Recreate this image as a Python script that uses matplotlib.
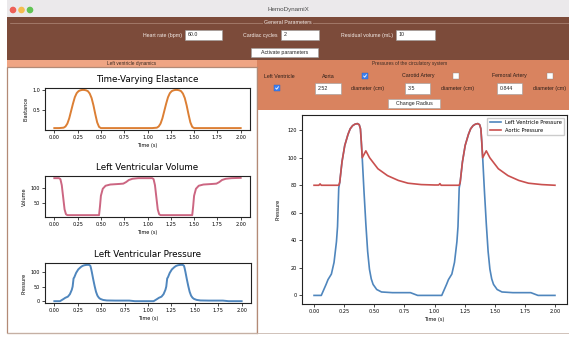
import matplotlib
matplotlib.use("Agg")
import matplotlib.pyplot as plt
from matplotlib.patches import Rectangle, Circle

# ---- data ----
# time-varying elastance (normalised)
t_elast = [0.00, 0.05, 0.10, 0.12, 0.14, 0.16, 0.18, 0.20, 0.22, 0.24, 0.26, 0.28, 0.30,
           0.32, 0.34, 0.36, 0.38, 0.40, 0.42, 0.44, 0.46, 0.48, 0.50, 0.70, 0.90,
           1.00, 1.05, 1.10, 1.12, 1.14, 1.16, 1.18, 1.20, 1.22, 1.24, 1.26, 1.28, 1.30,
           1.32, 1.34, 1.36, 1.38, 1.40, 1.42, 1.44, 1.46, 1.48, 1.50, 1.70, 1.90, 2.00]
elast = [0.06, 0.06, 0.07, 0.10, 0.17, 0.30, 0.48, 0.66, 0.82, 0.92, 0.97, 0.99, 1.00,
         1.00, 0.99, 0.97, 0.91, 0.80, 0.62, 0.40, 0.20, 0.09, 0.06, 0.06, 0.06,
         0.06, 0.06, 0.07, 0.10, 0.17, 0.30, 0.48, 0.66, 0.82, 0.92, 0.97, 0.99, 1.00,
         1.00, 0.99, 0.97, 0.91, 0.80, 0.62, 0.40, 0.20, 0.09, 0.06, 0.06, 0.06, 0.06]

# left ventricular volume (mL)
t_vol = [0.00, 0.05, 0.065, 0.08, 0.095, 0.11, 0.125, 0.14, 0.30, 0.48, 0.49, 0.50, 0.52,
         0.55, 0.60, 0.70, 0.74, 0.77, 0.80, 0.84, 0.90, 1.00,
         1.05, 1.065, 1.08, 1.095, 1.11, 1.125, 1.14, 1.30, 1.48, 1.49, 1.50, 1.52,
         1.55, 1.60, 1.70, 1.74, 1.77, 1.80, 1.84, 1.90, 2.00]
vol = [133, 133, 130, 110, 70, 30, 14, 11, 11, 11, 40, 75, 98,
       108, 112, 114, 115, 120, 127, 131, 133, 133,
       133, 130, 110, 70, 30, 14, 11, 11, 11, 40, 75, 98,
       108, 112, 114, 115, 120, 127, 131, 133, 134]

# left ventricular pressure (mmHg)
t_lvp = [0.00, 0.06, 0.075, 0.10, 0.116, 0.144, 0.166, 0.186, 0.195, 0.205, 0.213, 0.232,
         0.255, 0.282, 0.30, 0.32, 0.34, 0.36, 0.375, 0.385, 0.392, 0.40, 0.415, 0.43,
         0.445, 0.46, 0.475, 0.49, 0.52, 0.56, 0.65, 0.80, 0.86, 1.06,
         1.075, 1.10, 1.116, 1.144, 1.166, 1.186, 1.195, 1.205, 1.213, 1.232,
         1.255, 1.282, 1.30, 1.32, 1.34, 1.36, 1.375, 1.385, 1.392, 1.40, 1.415, 1.43,
         1.445, 1.46, 1.475, 1.49, 1.52, 1.56, 1.65, 1.80, 1.86, 2.00]
lv_pressure = [0, 0, 3, 8, 11.5, 15.5, 24, 39, 50, 78, 82, 97,
               109, 117, 121, 123.3, 124.4, 124.8, 124, 121, 112, 100, 75, 52,
               32, 19, 12, 8, 4.3, 2.5, 2, 2, 0, 0,
               3, 8, 11.5, 15.5, 24, 39, 50, 78, 82, 97,
               109, 117, 121, 123.3, 124.4, 124.8, 124, 121, 112, 100, 75, 52,
               32, 19, 12, 8, 4.3, 2.5, 2, 2, 0, 0]

# aortic pressure (mmHg)
t_aorta = [0.00, 0.04, 0.05, 0.06, 0.205, 0.213, 0.232, 0.255, 0.282, 0.30, 0.32, 0.34,
           0.36, 0.375, 0.385, 0.392, 0.40, 0.415, 0.43, 0.46, 0.53, 0.61, 0.70, 0.78,
           0.89, 1.00, 1.035, 1.045, 1.055, 1.205, 1.213, 1.232, 1.255, 1.282, 1.30,
           1.32, 1.34, 1.36, 1.375, 1.385, 1.392, 1.40, 1.415, 1.43, 1.46, 1.53, 1.61,
           1.70, 1.78, 1.89, 2.00]
aortic_pressure = [80, 80, 81, 80, 80, 82, 97, 109, 117, 121, 123.3, 124.4,
                   124.8, 124, 121, 112, 100, 102.5, 105, 100, 92, 87, 83.5, 81.5,
                   80.5, 80.2, 80.2, 81.2, 80, 80, 82, 97, 109, 117, 121,
                   123.3, 124.4, 124.8, 124, 121, 112, 100, 102.5, 105, 100, 92, 87,
                   83.5, 81.5, 80.5, 80.0]

time_ticks = [0.00, 0.25, 0.50, 0.75, 1.00, 1.25, 1.50, 1.75, 2.00]
time_labels = ["0.00", "0.25", "0.50", "0.75", "1.00", "1.25", "1.50", "1.75", "2.00"]

# ---- figure ----
W, H = 569, 337
fig = plt.figure(figsize=(W / 100, H / 100), dpi=100)
fig.patch.set_facecolor("white")

gui_font = "Liberation Sans"
BROWN = "#7c4b3a"
ORANGE = "#d9835f"
TAB = "#efa584"
BORDER = "#b38a76"

# background "window" drawn in pixel coordinates (y grows downward)
bg = fig.add_axes([0, 0, 1, 1])
bg.set_xlim(0, W)
bg.set_ylim(H, 0)
bg.axis("off")


def rect(x, y, w, h, fc, ec="none", lw=0.6):
    bg.add_patch(Rectangle((x, y), w, h, facecolor=fc, edgecolor=ec, linewidth=lw))


def label(x, y, s, ha="center", color="#f4ece8", size=3.8):
    bg.text(x, y, s, ha=ha, va="center", fontsize=size, color=color, family=gui_font)


def entry(x, y, w, h, s):
    rect(x, y, w, h, "white", "#9a9a9a", 0.4)
    bg.text(x + 2.5, y + h / 2, s, ha="left", va="center", fontsize=3.8,
            color="#222222", family=gui_font)


def button(x, y, w, h, s):
    rect(x, y, w, h, "white", "#a0a0a0", 0.4)
    bg.text(x + w / 2, y + h / 2, s, ha="center", va="center", fontsize=3.8,
            color="#222222", family=gui_font)


def checkbox(x, y, checked):
    if checked:
        rect(x - 2.6, y - 2.6, 5.2, 5.2, "#3d7ff0", "#2a62c4", 0.3)
        bg.plot([x - 1.4, x - 0.3, x + 1.5], [y, y + 1.2, y - 1.3],
                color="white", lw=0.6, solid_capstyle="round")
    else:
        rect(x - 2.6, y - 2.6, 5.2, 5.2, "white", "#8a8a8a", 0.3)


# title bar
rect(7, 0, W - 7, 17, "#ebe9eb")
for cx, col in zip([13, 21.5, 30], ["#ee5f57", "#f5bd4f", "#61c454"]):
    bg.add_patch(Circle((cx, 10), 2.6, color=col))
bg.text(288, 10, "HemoDynamiX", ha="center", va="center", fontsize=4.5,
        color="#4a4a4a", family=gui_font)

# general parameters band
rect(7, 17, W - 7, 43, BROWN)
bg.plot([10, W], [23, 23], color="#b08a7a", lw=0.5)
bg.text(288, 23, "General Parameters", ha="center", va="center", fontsize=3.8,
        color="#f4ece8", family=gui_font,
        bbox=dict(facecolor=BROWN, edgecolor="none", pad=0.8))
label(182, 35, "Heart rate (bpm)", ha="right")
entry(185, 30, 37, 10, "60.0")
label(278, 35, "Cardiac cycles", ha="right")
entry(281, 30, 38, 10, "2")
label(393, 35, "Residual volume (mL)", ha="right")
entry(396, 30, 39, 10, "10")
button(251, 48, 67, 9, "Activate parameters")

# left tab + panel
rect(7, 60, 250, 7, TAB)
label(132, 63.5, "Left ventricle dynamics", color="#3a2a22", size=3.4)
rect(7, 67, 250, 266, "white", BORDER, 0.9)

# right panel
rect(257, 60, W - 257, 50, ORANGE)
label(410, 63.5, "Pressures of the circulatory system", color="#3a2a22", size=3.4)
label(279, 76, "Left Ventricle", color="#2a1d18")
label(328, 76, "Aorta", color="#2a1d18")
checkbox(365, 76, True)
label(418, 76, "Carotid Artery", color="#2a1d18")
checkbox(456, 76, False)
label(509, 76, "Femoral Artery", color="#2a1d18")
checkbox(550, 76, False)
checkbox(277, 88, True)
entry(315, 83, 26, 11, "2.52")
label(368, 88.5, "diameter (cm)", color="#2a1d18")
entry(405, 83, 25, 11, "3.5")
label(458, 88.5, "diameter (cm)", color="#2a1d18")
entry(497, 83, 25, 11, "0.844")
label(533, 88.5, "diameter (cm)", ha="left", color="#2a1d18")
button(388, 99, 52, 9, "Change Radius")
rect(257, 110, W - 257, 223, "white")
bg.plot([257, 257], [67, 333], color=BORDER, lw=0.9)
bg.plot([7, W], [333, 333], color="#c9b8ae", lw=0.6)


def px_axes(x0, y0, x1, y1):
    return fig.add_axes([x0 / W, 1 - y1 / H, (x1 - x0) / W, (y1 - y0) / H])


def style(ax, size):
    ax.set_facecolor("white")
    ax.tick_params(labelsize=size, length=2, width=0.5, pad=1.5)
    for sp in ax.spines.values():
        sp.set_linewidth(0.8)
        sp.set_color("#222222")
    ax.set_xticks(time_ticks)
    ax.set_xticklabels(time_labels)


# left ventricle dynamics panels
ax1 = px_axes(45, 88, 250, 130)
ax1.plot(t_elast, elast, color="#dc7f34", lw=1.4)
ax1.set_yticks([0.5, 1.0])
ax1.set_title("Time-Varying Elastance", fontsize=6.3, pad=4)
ax1.set_ylabel("Elastance", fontsize=3.6, labelpad=3)
ax1.set_xlabel("Time (s)", fontsize=3.6, labelpad=2)
style(ax1, 3.5)

ax2 = px_axes(45, 176, 250, 217)
ax2.plot(t_vol, vol, color="#cc6682", lw=1.4)
ax2.set_yticks([50, 100])
ax2.set_title("Left Ventricular Volume", fontsize=6.3, pad=4)
ax2.set_ylabel("Volume", fontsize=3.6, labelpad=3)
ax2.set_xlabel("Time (s)", fontsize=3.6, labelpad=2)
style(ax2, 3.5)

ax3 = px_axes(45, 263, 251, 303)
ax3.plot(t_lvp, lv_pressure, color="#4f86bd", lw=1.4)
ax3.set_yticks([0, 50, 100])
ax3.set_title("Left Ventricular Pressure", fontsize=6.3, pad=4)
ax3.set_ylabel("Pressure", fontsize=3.6, labelpad=3)
ax3.set_xlabel("Time (s)", fontsize=3.6, labelpad=2)
style(ax3, 3.5)

# circulatory system pressures
ax4 = px_axes(302, 115, 567, 304)
ax4.plot(t_lvp, lv_pressure, color="#4f86bd", lw=1.2, label="Left Ventricle Pressure")
ax4.plot(t_aorta, aortic_pressure, color="#c9504f", lw=1.2, label="Aortic Pressure")
ax4.set_yticks([0, 20, 40, 60, 80, 100, 120])
ax4.set_ylabel("Pressure", fontsize=3.6, labelpad=5)
ax4.set_xlabel("Time (s)", fontsize=3.6, labelpad=2)
style(ax4, 3.6)
ax4.legend(loc="upper right", fontsize=3.7, handlelength=2.2, borderpad=0.5,
           labelspacing=0.5, framealpha=1, edgecolor="#cccccc", fancybox=False)

fig.savefig("out.png", dpi=100)
